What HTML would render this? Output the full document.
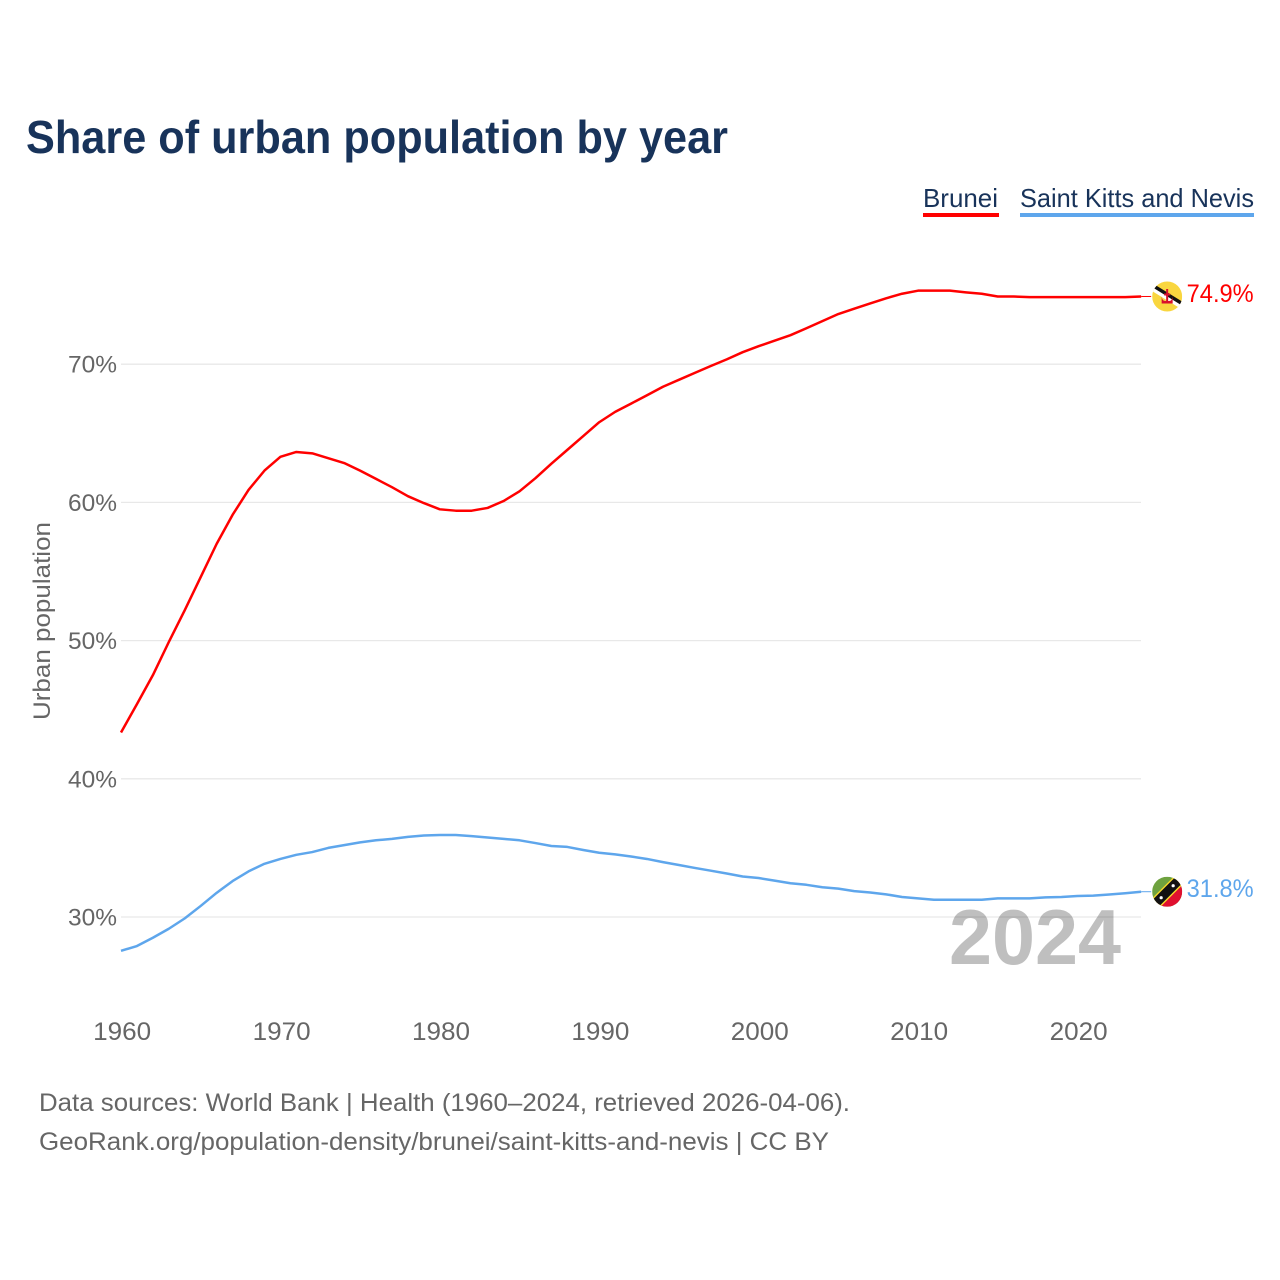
<!DOCTYPE html>
<html lang="en">
<head>
<meta charset="utf-8">
<title>Share of urban population by year</title>
<style>
html,body{margin:0;padding:0;background:#fff;width:1280px;height:1280px;overflow:hidden}
svg{display:block}
text{font-family:"Liberation Sans",sans-serif}
</style>
</head>
<body>
<svg id="chart" width="1280" height="1280" viewBox="0 0 1280 1280" xmlns="http://www.w3.org/2000/svg">
  <defs>
    <clipPath id="flag-clip"><circle cx="0" cy="0" r="15"></circle></clipPath>
  </defs>
  <rect x="0" y="0" width="1280" height="1280" fill="#fff"></rect>
  <text x="26" y="153" font-size="46" font-weight="700" fill="#18335a" textLength="702" lengthAdjust="spacingAndGlyphs">Share of urban population by year</text>

  <g>
    <text x="923" y="207" font-size="26" fill="#18335a" textLength="75" lengthAdjust="spacingAndGlyphs">Brunei</text>
    <rect x="923" y="213" width="76" height="4" fill="#ff0000"></rect>
  </g>
  <g>
    <text x="1020" y="207" font-size="26" fill="#18335a" textLength="234" lengthAdjust="spacingAndGlyphs">Saint Kitts and Nevis</text>
    <rect x="1020" y="213" width="234" height="4" fill="#5ea6ec"></rect>
  </g>

  <text x="949" y="964" font-size="78" font-weight="700" fill="#bfbfbf" textLength="172" lengthAdjust="spacingAndGlyphs">2024</text>

  <g id="grid"></g>
  <g id="y-axis"></g>
  <g id="x-axis"></g>
  <text transform="translate(50,720) rotate(-90)" x="0" y="0" font-size="24" fill="#666" textLength="198" lengthAdjust="spacingAndGlyphs">Urban population</text>

  <g id="series"></g>

  <g id="flag-brunei">
    <g clip-path="url(#flag-clip)">
      <rect x="-15" y="-15" width="30" height="30" fill="#f9d63f"></rect>
      <line x1="-17" y1="-10.5" x2="17" y2="10.5" stroke="#fff" stroke-width="6.5"></line>
      <line x1="-16" y1="-12" x2="18" y2="9" stroke="#111" stroke-width="3.5"></line>
      <path d="M-5.5,0 Q-5,5 -1,4.5 L-1,-7.5 L1,-7.5 L1,4.5 Q5,5 5.5,0 L5.5,7 L-5.5,7 Z" fill="#d8102c"></path>
      <rect x="-3" y="-3" width="6" height="2" fill="#d8102c"></rect>
    </g>
  </g>
  <g id="flag-kitts">
    <g clip-path="url(#flag-clip)">
      <rect x="-15" y="-15" width="30" height="30" fill="#6ea23f"></rect>
      <polygon points="15,-15 15,15 -15,15" fill="#e0102f"></polygon>
      <polygon points="6.5,-15 15,-15 15,-6.5 -6.5,15 -15,15 -15,6.5" fill="#f6d92a"></polygon>
      <polygon points="8.5,-15 15,-15 15,-8.5 -8.5,15 -15,15 -15,8.5" fill="#111" transform="scale(1)"></polygon>
      <circle cx="-6" cy="6" r="1.6" fill="#fff"></circle>
      <circle cx="6" cy="-6" r="1.6" fill="#fff"></circle>
    </g>
  </g>
  <g id="labels"></g>

  <text x="39" y="1111" font-size="25" fill="#666" textLength="811" lengthAdjust="spacingAndGlyphs">Data sources: World Bank | Health (1960–2024, retrieved 2026-04-06).</text>
  <text x="39" y="1150" font-size="25" fill="#666" textLength="790" lengthAdjust="spacingAndGlyphs">GeoRank.org/population-density/brunei/saint-kitts-and-nevis | CC BY</text>
</svg>
<script>
const firstYear = 1960;
const bruneiValues = [43.35,45.4,47.5,49.9,52.2,54.6,57.0,59.1,60.9,62.3,63.3,63.65,63.55,63.2,62.85,62.3,61.7,61.1,60.45,59.95,59.5,59.4,59.4,59.6,60.1,60.8,61.75,62.8,63.8,64.8,65.8,66.55,67.15,67.75,68.37,68.87,69.37,69.87,70.35,70.87,71.3,71.7,72.1,72.6,73.12,73.63,74.02,74.4,74.77,75.1,75.32,75.32,75.32,75.2,75.1,74.9,74.9,74.85,74.85,74.85,74.85,74.85,74.85,74.85,74.9];
const kittsValues = [27.55,27.9,28.5,29.15,29.9,30.8,31.75,32.6,33.3,33.85,34.2,34.5,34.7,35.0,35.2,35.4,35.55,35.65,35.8,35.9,35.93,35.93,35.85,35.75,35.65,35.55,35.35,35.14,35.07,34.85,34.65,34.53,34.38,34.2,33.97,33.76,33.55,33.35,33.15,32.93,32.82,32.63,32.44,32.33,32.15,32.05,31.87,31.77,31.64,31.45,31.35,31.25,31.25,31.25,31.25,31.35,31.35,31.35,31.42,31.45,31.52,31.55,31.63,31.72,31.83];
const yTicks = [30,40,50,60,70];
const xTicks = [1960,1970,1980,1990,2000,2010,2020];

const NS = 'http://www.w3.org/2000/svg';
function x(year){ return 121 + (year - 1960) * 15.94; }
function y(value){ return 917 - (value - 30) * 13.82; }

function make(tag, parent, attrs, content){
  const el = document.createElementNS(NS, tag);
  for (const k in attrs) el.setAttribute(k, attrs[k]);
  if (content !== undefined) el.textContent = content;
  parent.appendChild(el);
  return el;
}

const gridG = document.getElementById('grid');
const yAxisG = document.getElementById('y-axis');
const xAxisG = document.getElementById('x-axis');
const seriesG = document.getElementById('series');
const labelsG = document.getElementById('labels');

yTicks.forEach(function(t){
  const line = make('line', gridG, {x1:121, x2:1141, y1:y(t), y2:y(t), stroke:'rgba(0,0,0,0.09)', 'stroke-width':1.3});
  
  
  const label = make('text', yAxisG, {x:117, y:y(t)+8.5, 'text-anchor':'end', 'font-size':24, fill:'#666', textLength:49, lengthAdjust:'spacingAndGlyphs'}, t + '%');
  
  
});

xTicks.forEach(function(t){
  const label = make('text', xAxisG, {x:x(t) + 1.2, y:1040, 'text-anchor':'middle', 'font-size':25, fill:'#666', textLength:58, lengthAdjust:'spacingAndGlyphs'}, String(t));
  
  
});

function drawSeries(values, color, key, flagId){
  const pts = values.map(function(v, i){ return x(firstYear + i).toFixed(2) + ',' + y(v).toFixed(2); }).join(' ');
  const line = make('polyline', seriesG, {points:pts, fill:'none', stroke:color, 'stroke-width':2.5, 'stroke-linejoin':'round'});
  
  
  const last = values[values.length - 1];
  const lx = x(firstYear + values.length - 1);
  const ly = y(last);
  const conn = make('line', seriesG, {x1:lx, x2:lx + 10, y1:ly, y2:ly, stroke:color, 'stroke-width':1});
  
  
  document.getElementById(flagId).setAttribute('transform', 'translate(' + (lx + 26) + ',' + ly + ')');
  const label = make('text', labelsG, {x:lx + 45.5, y:ly + 5.5, 'font-size':25, fill:color, textLength:67, lengthAdjust:'spacingAndGlyphs'}, last.toFixed(1) + '%');
  
  
}
drawSeries(bruneiValues, '#ff0000', 'brunei', 'flag-brunei');
drawSeries(kittsValues, '#5ea6ec', 'saint-kitts-and-nevis', 'flag-kitts');
</script>
</body>
</html>
